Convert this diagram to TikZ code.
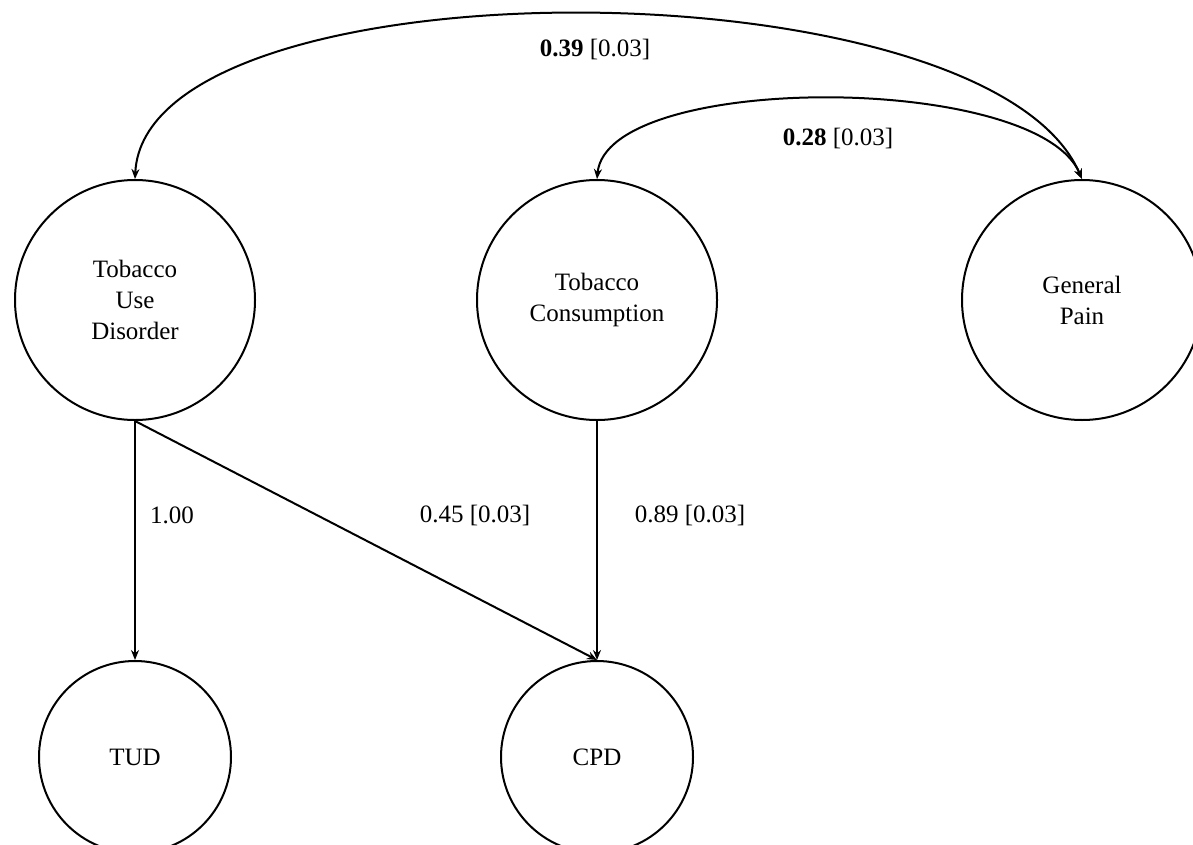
\documentclass[tikz,border=0pt]{standalone}
\usepackage{fontspec}
\setmainfont{Liberation Serif}
\usetikzlibrary{arrows.meta}
\begin{document}
\begin{tikzpicture}[x=1pt,y=-1pt,
  latent/.style={circle,draw,line width=2pt,minimum size=240pt,inner sep=0pt,align=center,font=\fontsize{25}{31}\selectfont},
  indic/.style={circle,draw,line width=2pt,minimum size=192pt,inner sep=0pt,align=center,font=\fontsize{25}{31}\selectfont},
  conn/.style={line width=2pt,-{Stealth[length=10pt,width=8pt]}},
  cov/.style={line width=2pt,{Stealth[length=10pt,width=8pt]}-{Stealth[length=10pt,width=8pt]}},
  lbl/.style={font=\fontsize{25}{31}\selectfont,inner sep=0pt}]
\useasboundingbox (0,0) rectangle (1193,845);
\node[latent] (tud) at (135,300) {Tobacco\\Use\\Disorder};
\node[latent] (tc) at (597,300) {Tobacco\\Consumption};
\node[latent] (gp) at (1082,300) {General\\Pain};
\node[indic] (tudi) at (135,757) {TUD};
\node[indic] (cpd) at (597,757) {CPD};
\draw[conn] (tud.south) -- (tudi.north);
\draw[conn] (tud.south) -- (cpd.north);
\draw[conn] (tc.south) -- (cpd.north);
\draw[cov] (gp.north) .. controls +(-95,-220) and +(10,-220) .. (tud.north);
\draw[cov] (gp.north) .. controls +(-45,-107) and +(10,-107) .. (tc.north);
\node[lbl] (l1) at (595,50) {\textbf{0.39} [0.03]};
\node[lbl] (l2) at (838,138) {\textbf{0.28} [0.03]};
\node[lbl] (l3) at (172,515) {1.00};
\node[lbl] (l4) at (475,515) {0.45 [0.03]};
\node[lbl] (l5) at (690,515) {0.89 [0.03]};
\end{tikzpicture}
\end{document}
